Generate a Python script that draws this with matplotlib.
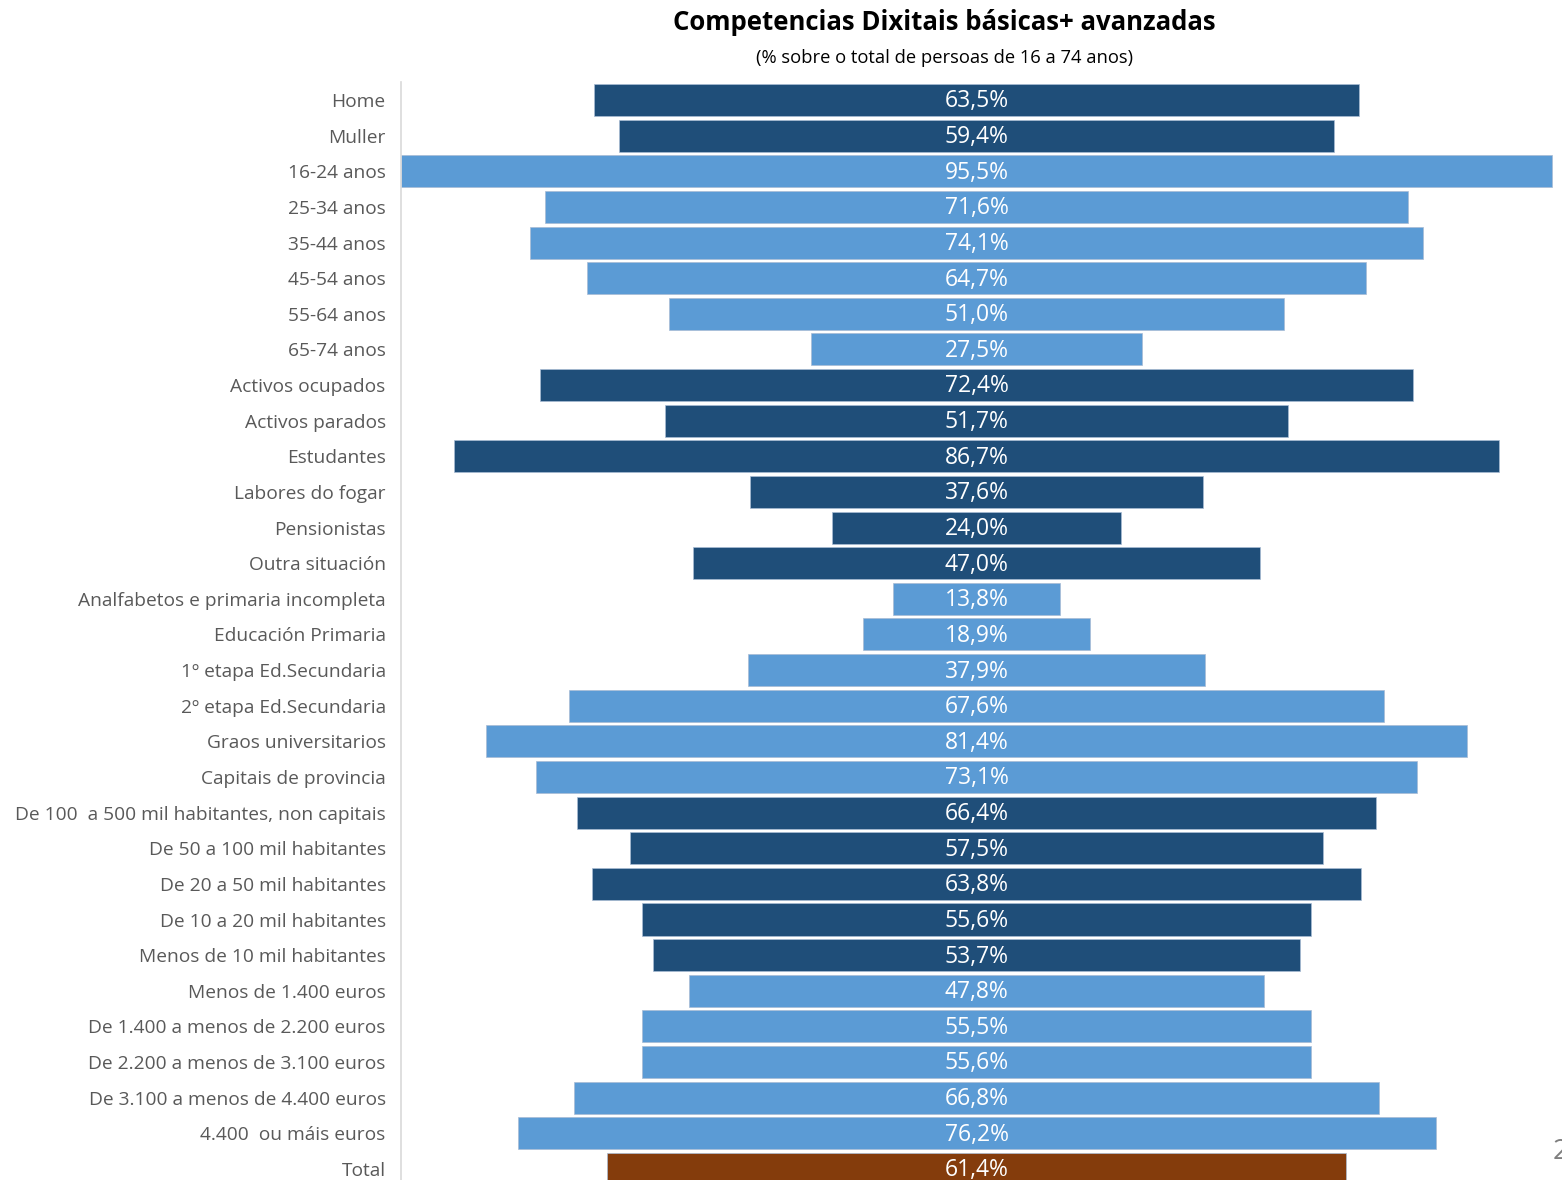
import matplotlib.pyplot as plt

plt.rcParams['font.family'] = ['Open Sans', 'Noto Sans', 'DejaVu Sans']

categories = ['Home', 'Muller', '16-24 anos', '25-34 anos', '35-44 anos', '45-54 anos',
              '55-64 anos', '65-74 anos', 'Activos ocupados', 'Activos parados',
              'Estudantes', 'Labores do fogar', 'Pensionistas', 'Outra situación',
              'Analfabetos e primaria incompleta', 'Educación Primaria',
              '1º etapa Ed.Secundaria', '2º etapa Ed.Secundaria', 'Graos universitarios',
              'Capitais de provincia', 'De 100  a 500 mil habitantes, non capitais',
              'De 50 a 100 mil habitantes', 'De 20 a 50 mil habitantes',
              'De 10 a 20 mil habitantes', 'Menos de 10 mil habitantes',
              'Menos de 1.400 euros', 'De 1.400 a menos de 2.200 euros',
              'De 2.200 a menos de 3.100 euros', 'De 3.100 a menos de 4.400 euros',
              '4.400  ou máis euros', 'Total']
values = [63.5, 59.4, 95.5, 71.6, 74.1, 64.7, 51.0, 27.5, 72.4, 51.7, 86.7, 37.6, 24.0,
          47.0, 13.8, 18.9, 37.9, 67.6, 81.4, 73.1, 66.4, 57.5, 63.8, 55.6, 53.7, 47.8,
          55.5, 55.6, 66.8, 76.2, 61.4]
# colour group of each row
groups = (['d'] * 2 + ['l'] * 6 + ['d'] * 6 + ['l'] * 6 + ['d'] * 5 + ['l'] * 5 + ['t'])

group_colors = {'d': '#1F4E79', 'l': '#5B9BD5', 't': '#843C0C'}

W, H = 1562, 1180
fig = plt.figure(figsize=(W / 100, H / 100), dpi=100)
pitch = 35.63
ax_top = 82.2
ax_h = len(categories) * pitch
ax = fig.add_axes([401 / W, (H - ax_top - ax_h) / H, (W - 401) / W, ax_h / H])

ypos = list(range(len(categories)))
colors = [group_colors[g] for g in groups]
ax.barh(ypos, values, left=[-v / 2 for v in values], height=0.9, color=colors,
        edgecolor='#A9BCD4', linewidth=0.5)

for y, v in zip(ypos, values):
    ax.text(0, y + 0.04, f'{v:.1f}%'.replace('.', ','), ha='center', va='center',
            color='white', fontsize=16.5)

ax.set_xlim(-47.78, 48.6)
ax.set_ylim(len(categories) - 0.5, -0.5)
ax.set_yticks(ypos)
ax.set_yticklabels(categories, fontsize=13.8, color='#595959')
ax.tick_params(axis='y', length=0, pad=11)
ax.set_xticks([])
for s in ['top', 'right', 'bottom']:
    ax.spines[s].set_visible(False)
ax.spines['left'].set_color('#D9D9D9')
ax.spines['left'].set_linewidth(1.2)

fig.text(944 / W, 1 - 22 / H, 'Competencias Dixitais básicas+ avanzadas', ha='center',
         va='center', fontsize=18.5, fontweight='bold', color='black')
fig.text(944 / W, 1 - 58 / H, '(% sobre o total de persoas de 16 a 74 anos)', ha='center',
         va='center', fontsize=13.2, color='black')
fig.text(1553 / W, 1 - 1152 / H, '2', ha='left', va='center', fontsize=20, color='#7F7F7F')

fig.savefig('out.png', dpi=100)
